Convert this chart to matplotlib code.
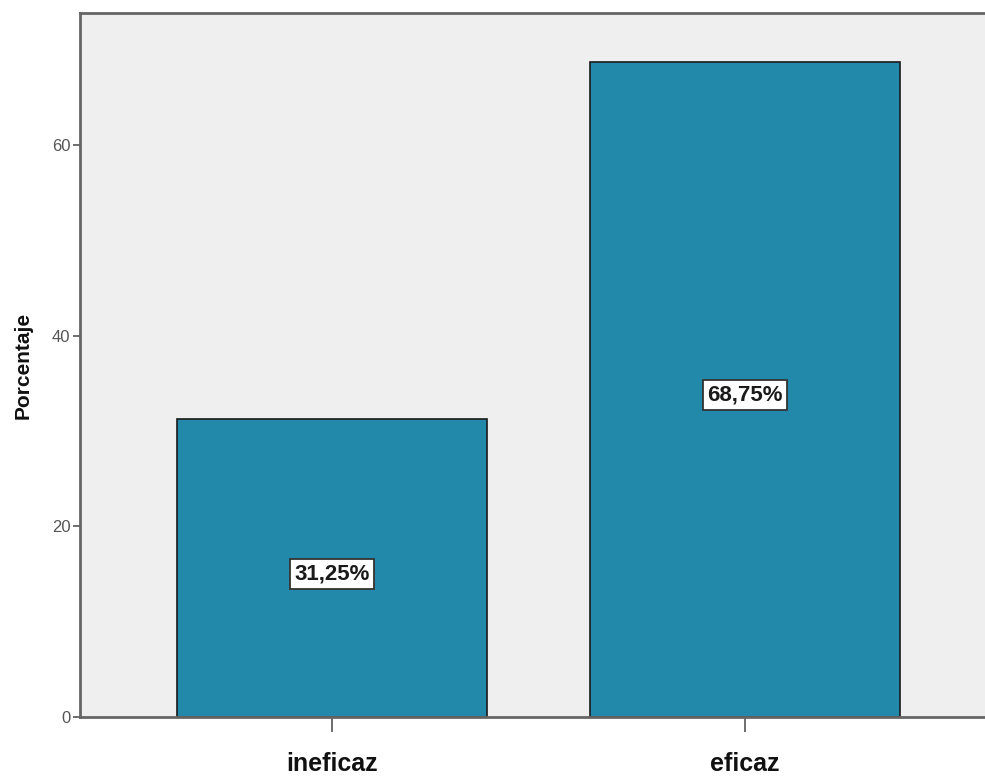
import matplotlib.pyplot as plt

plt.rcParams['font.family'] = ['Liberation Sans', 'DejaVu Sans']

categories = ['ineficaz', 'eficaz']
percentages = [31.25, 68.75]
labels = ['31,25%', '68,75%']

fig = plt.figure(figsize=(9.85, 7.8), dpi=100)
ax = fig.add_axes([0.0812, 0.0808, 0.931, 0.9025])
ax.set_facecolor('#efefef')

x = range(len(categories))
ax.bar(x, percentages, width=0.75, color='#2389aa', edgecolor='#1a1a1a', linewidth=1.2, zorder=2)

for xi, val, lab in zip(x, percentages, labels):
    ax.text(xi, val / 2 - 0.6, lab, ha='center', va='center', fontsize=16, fontweight='bold',
            color='#1a1a1a', zorder=3,
            bbox=dict(boxstyle='square,pad=0.2', facecolor='white', edgecolor='#333333', linewidth=1.3))

ax.set_xlim(-0.61, 1.61)
ax.set_ylim(0, 73.9)
ax.set_yticks([0, 20, 40, 60])
ax.set_xticks(list(x))
ax.set_xticklabels(categories, fontsize=18, fontweight='bold', color='#111111')
ax.tick_params(axis='y', length=5, width=1.2, colors='#555555', labelsize=12, pad=2)
ax.tick_params(axis='x', length=11, width=1.2, color='#555555', pad=14)
ax.set_ylabel('Porcentaje', fontsize=15, fontweight='bold', labelpad=14, color='#111111')

for side in ['left', 'bottom', 'top']:
    ax.spines[side].set_color('#666666')
    ax.spines[side].set_linewidth(2)
ax.spines['right'].set_visible(False)

fig.savefig('out.png', dpi=100)
